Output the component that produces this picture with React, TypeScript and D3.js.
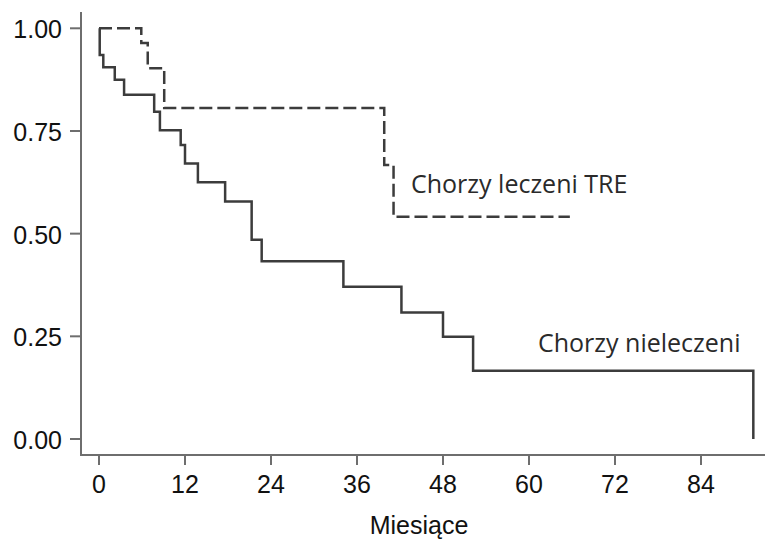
import React from "react";
import * as d3 from "d3";

// Kaplan-Meier data (months, survival proportion after event)
const untreatedTimes = [0, 0.1, 0.6, 2.2, 3.5, 7.7, 8.5, 11.4, 12.0, 13.8, 17.6, 21.3, 22.7, 34.1, 42.2, 48.0, 52.2, 91.3];
const untreatedSurv = [1.0, 0.935, 0.905, 0.875, 0.838, 0.797, 0.752, 0.716, 0.671, 0.625, 0.578, 0.485, 0.433, 0.371, 0.308, 0.249, 0.166, 0.0];

const treatedTimes = [0, 5.9, 6.8, 9.1, 39.8, 41.1, 65.7];
const treatedSurv = [1.0, 0.964, 0.903, 0.806, 0.667, 0.541, 0.541];

const xTicks = [0, 12, 24, 36, 48, 60, 72, 84];
const yTicks = [0, 0.25, 0.5, 0.75, 1.0];

const xLabel = "Miesiące";
const treatedLabel = "Chorzy leczeni TRE";
const untreatedLabel = "Chorzy nieleczeni";

export default function App() {
  const W = 765;
  const H = 542;
  const x = d3.scaleLinear().domain([0, 84]).range([99, 701]);
  const y = d3.scaleLinear().domain([0, 1]).range([439, 28.3]);

  const axisX = 81;
  const axisY = 455;

  const line = d3
    .line<[number, number]>()
    .x((d) => x(d[0]))
    .y((d) => y(d[1]))
    .curve(d3.curveStepAfter);

  const untreated: [number, number][] = untreatedTimes.map((t, i) => [t, untreatedSurv[i]]);
  const treated: [number, number][] = treatedTimes.map((t, i) => [t, treatedSurv[i]]);

  const tickFont = "'Liberation Sans', Arial, sans-serif";
  const labelFont = "'Open Sans', sans-serif";

  return (
    <svg
      width={W}
      height={H}
      style={{ position: "absolute", left: 0, top: 0, background: "#fff" }}
    >
      <rect x={0} y={0} width={W} height={H} fill="#fff" />
      {/* axes */}
      <line x1={axisX} x2={axisX} y1={12} y2={axisY + 1} stroke="#6e6e6e" strokeWidth={2} />
      <line x1={axisX - 1} x2={W} y1={axisY} y2={axisY} stroke="#6e6e6e" strokeWidth={2} />
      {yTicks.map((t) => (
        <g key={"y" + t}>
          <line x1={70} x2={axisX} y1={y(t)} y2={y(t)} stroke="#6e6e6e" strokeWidth={2} />
          <text
            x={62}
            y={y(t) + 10}
            textAnchor="end"
            fontFamily={tickFont}
            fontSize={25}
            fill="#111"
          >
            {t.toFixed(2)}
          </text>
        </g>
      ))}
      {xTicks.map((t) => (
        <g key={"x" + t}>
          <line x1={x(t)} x2={x(t)} y1={axisY} y2={465} stroke="#6e6e6e" strokeWidth={2} />
          <text
            x={x(t)}
            y={493}
            textAnchor="middle"
            fontFamily={tickFont}
            fontSize={25}
            fill="#111"
          >
            {t}
          </text>
        </g>
      ))}
      <text
        x={x(36) + 62}
        y={534}
        textAnchor="middle"
        fontFamily={tickFont}
        fontSize={25}
        fill="#111"
      >
        {xLabel}
      </text>

      {/* curves */}
      <path d={line(treated) || ""} fill="none" stroke="#3c3c3c" strokeWidth={2.5} strokeDasharray="13,5" />
      <path d={line(untreated) || ""} fill="none" stroke="#3c3c3c" strokeWidth={2.5} />

      {/* labels */}
      <text x={411} y={193} fontFamily={labelFont} fontSize={25} fill="#2a2a2a">
        {treatedLabel}
      </text>
      <text x={538} y={352} fontFamily={labelFont} fontSize={25} fill="#2a2a2a">
        {untreatedLabel}
      </text>
    </svg>
  );
}
